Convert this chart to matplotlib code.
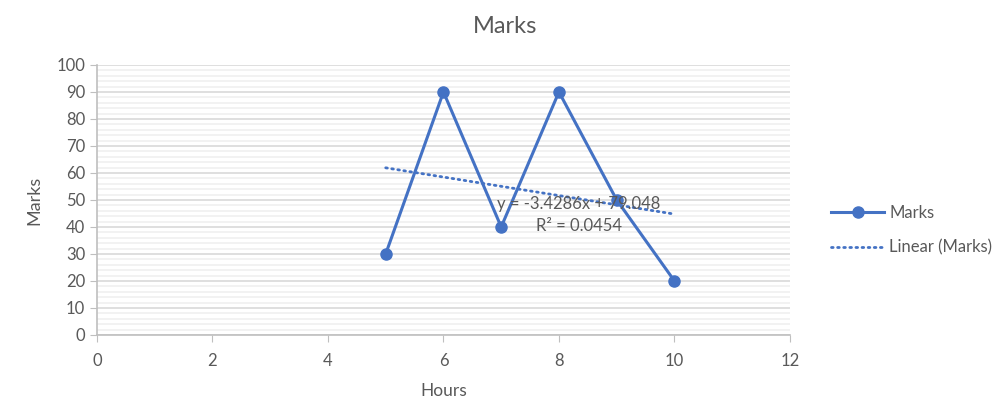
import numpy as np
import matplotlib
matplotlib.use('Agg')
import matplotlib.pyplot as plt
from matplotlib.ticker import MultipleLocator

hours = [5, 6, 7, 8, 9, 10]
marks = [30, 90, 40, 90, 50, 20]

BLUE = '#4472C4'
GREY_TXT = '#595959'

plt.rcParams['font.family'] = ['Lato', 'DejaVu Sans']

fig = plt.figure(figsize=(10.05, 4.11), dpi=100)
ax = fig.add_axes([0.0965, 0.185, 0.6895, 0.657])

# linear trendline fitted from the data, like the spreadsheet does
slope, intercept = np.polyfit(hours, marks, 1)
pred = np.polyval([slope, intercept], hours)
r2 = 1 - np.sum((np.array(marks) - pred) ** 2) / np.sum((np.array(marks) - np.mean(marks)) ** 2)
tx = np.array([hours[0], hours[-1]])

ax.plot(hours, marks, color=BLUE, lw=2.2, marker='o', ms=8, label='Marks', zorder=3)
ax.plot(tx, slope * tx + intercept, color=BLUE, lw=2, ls=(0, (0.6, 1.6)),
        dash_capstyle='round', label='Linear (Marks)', zorder=2)

ax.text(8.35, 48.5, 'y = %.4fx + %.3f' % (slope, intercept), ha='center', va='center',
        fontsize=12, color=GREY_TXT, zorder=4)
ax.text(8.35, 40.4, 'R² = %.4f' % r2, ha='center', va='center',
        fontsize=12, color=GREY_TXT, zorder=4)

ax.set_xlim(0, 12)
ax.set_ylim(0, 100)
ax.xaxis.set_major_locator(MultipleLocator(2))
ax.yaxis.set_major_locator(MultipleLocator(10))
ax.yaxis.set_minor_locator(MultipleLocator(2))
ax.grid(axis='y', which='major', color='#D9D9D9', lw=1.2)
ax.grid(axis='y', which='minor', color='#F0F0F0', lw=1.2)
ax.set_axisbelow(True)

for s in ['top', 'right']:
    ax.spines[s].set_visible(False)
for s in ['left', 'bottom']:
    ax.spines[s].set_color('#BFBFBF')
    ax.spines[s].set_linewidth(1.2)
ax.tick_params(which='major', direction='out', length=5, color='#BFBFBF',
               labelcolor=GREY_TXT, labelsize=12)
ax.tick_params(axis='x', pad=8)
ax.tick_params(which='minor', length=0)

ax.set_xlabel('Hours', fontsize=12.5, color=GREY_TXT, labelpad=10)
ax.set_ylabel('Marks', fontsize=13, color=GREY_TXT, labelpad=10)
fig.suptitle('Marks', x=0.503, y=0.96, fontsize=17, color=GREY_TXT)

fig.legend(loc='center left', bbox_to_anchor=(0.812, 0.44), frameon=False,
           fontsize=12, labelcolor=GREY_TXT, handlelength=3.2, labelspacing=1.1,
           handletextpad=0.3)

fig.savefig('out.png', dpi=100)
